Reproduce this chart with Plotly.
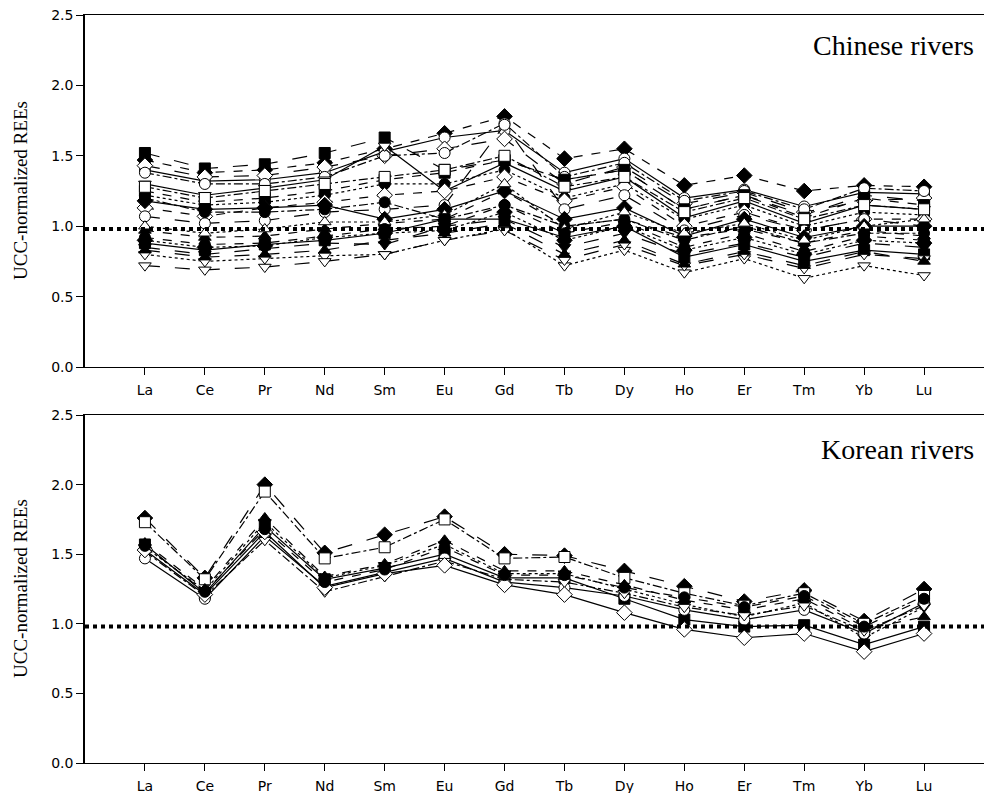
import plotly.graph_objects as go

elements = ["La", "Ce", "Pr", "Nd", "Sm", "Eu", "Gd", "Tb", "Dy", "Ho", "Er", "Tm", "Yb", "Lu"]
positions = list(range(1, 15))
ucc_ref = 0.98

# Chinese rivers (UCC-normalized REEs)
cn_01 = [1.52, 1.41, 1.44, 1.52, 1.63, 1.40, 1.47, 1.33, 1.40, 1.12, 1.22, 1.08, 1.22, 1.18]
cn_02 = [1.47, 1.38, 1.40, 1.45, 1.55, 1.66, 1.78, 1.48, 1.55, 1.29, 1.36, 1.25, 1.29, 1.28]
cn_03 = [1.40, 1.32, 1.33, 1.38, 1.53, 1.63, 1.68, 1.38, 1.48, 1.20, 1.26, 1.14, 1.24, 1.23]
cn_04 = [1.43, 1.35, 1.36, 1.42, 1.50, 1.55, 1.62, 1.30, 1.42, 1.16, 1.24, 1.10, 1.18, 1.20]
cn_05 = [1.38, 1.30, 1.30, 1.35, 1.50, 1.52, 1.73, 1.35, 1.45, 1.18, 1.25, 1.12, 1.27, 1.25]
cn_06 = [1.30, 1.22, 1.27, 1.33, 1.57, 1.25, 1.45, 1.25, 1.35, 1.06, 1.18, 1.02, 1.15, 1.12]
cn_07 = [1.25, 1.17, 1.20, 1.25, 1.33, 1.38, 1.47, 1.33, 1.40, 1.12, 1.22, 1.06, 1.20, 1.15]
cn_08 = [1.22, 1.15, 1.17, 1.22, 1.30, 1.30, 1.40, 1.20, 1.30, 1.05, 1.15, 1.00, 1.10, 1.08]
cn_09 = [1.13, 1.07, 1.13, 1.17, 1.22, 1.25, 1.35, 1.18, 1.28, 1.00, 1.10, 0.97, 1.05, 1.05]
cn_10 = [1.07, 1.02, 1.04, 1.10, 1.12, 1.15, 1.72, 1.12, 1.22, 0.97, 1.08, 0.97, 1.05, 1.00]
cn_11 = [1.18, 1.12, 1.13, 1.15, 1.05, 1.12, 1.25, 1.05, 1.13, 0.93, 1.05, 0.92, 1.00, 1.00]
cn_12 = [1.20, 1.10, 1.10, 1.12, 1.17, 1.05, 1.15, 1.00, 1.05, 0.90, 1.00, 0.88, 0.95, 0.95]
cn_13 = [0.97, 0.92, 0.93, 0.98, 1.02, 1.05, 1.25, 1.00, 1.05, 0.92, 0.98, 0.88, 0.97, 0.93]
cn_14 = [1.00, 0.95, 0.98, 1.03, 1.03, 1.08, 1.30, 0.98, 1.10, 0.95, 1.02, 0.90, 1.00, 1.05]
cn_15 = [0.88, 0.83, 0.87, 0.90, 0.95, 1.05, 1.05, 0.92, 1.00, 0.78, 0.87, 0.75, 0.83, 0.80]
cn_16 = [0.85, 0.80, 0.84, 0.88, 0.87, 1.00, 1.05, 0.85, 0.95, 0.80, 0.88, 0.78, 0.88, 0.85]
cn_17 = [0.92, 0.87, 0.88, 0.93, 0.98, 1.00, 1.15, 0.95, 1.03, 0.85, 0.95, 0.82, 0.93, 0.90]
cn_18 = [0.90, 0.85, 0.86, 0.92, 0.95, 0.97, 1.10, 0.90, 1.00, 0.83, 0.92, 0.80, 0.90, 0.88]
cn_19 = [0.80, 0.75, 0.77, 0.79, 0.80, 0.90, 0.98, 0.72, 0.83, 0.67, 0.77, 0.63, 0.72, 0.65]
cn_20 = [0.72, 0.69, 0.71, 0.75, 0.80, 0.90, 0.97, 0.76, 0.87, 0.72, 0.80, 0.70, 0.80, 0.77]
cn_21 = [0.83, 0.78, 0.80, 0.83, 0.90, 0.95, 1.02, 0.80, 0.90, 0.73, 0.82, 0.72, 0.82, 0.75]
cn_22 = [1.28, 1.20, 1.25, 1.30, 1.35, 1.40, 1.50, 1.28, 1.35, 1.10, 1.20, 1.05, 1.15, 1.12]

# Korean rivers
kr_01 = [1.76, 1.33, 2.00, 1.51, 1.64, 1.77, 1.50, 1.49, 1.38, 1.27, 1.16, 1.24, 1.02, 1.25]
kr_02 = [1.73, 1.32, 1.95, 1.47, 1.55, 1.75, 1.47, 1.48, 1.33, 1.22, 1.13, 1.22, 1.00, 1.20]
kr_03 = [1.58, 1.25, 1.76, 1.34, 1.43, 1.60, 1.38, 1.38, 1.28, 1.17, 1.10, 1.18, 0.96, 1.05]
kr_04 = [1.57, 1.22, 1.70, 1.32, 1.40, 1.50, 1.33, 1.33, 1.18, 1.03, 0.98, 0.99, 0.85, 0.98]
kr_05 = [1.55, 1.24, 1.73, 1.33, 1.42, 1.57, 1.36, 1.36, 1.25, 1.14, 1.05, 1.15, 0.90, 1.12]
kr_06 = [1.47, 1.18, 1.63, 1.27, 1.37, 1.47, 1.30, 1.26, 1.20, 1.10, 1.03, 1.10, 0.93, 1.15]
kr_07 = [1.52, 1.20, 1.60, 1.23, 1.34, 1.45, 1.32, 1.30, 1.22, 1.12, 1.06, 1.13, 0.95, 1.13]
kr_08 = [1.53, 1.21, 1.66, 1.26, 1.36, 1.42, 1.28, 1.21, 1.08, 0.96, 0.90, 0.93, 0.80, 0.93]
kr_09 = [1.56, 1.23, 1.68, 1.30, 1.39, 1.55, 1.35, 1.35, 1.26, 1.19, 1.12, 1.20, 0.98, 1.18]

chinese = [
    (cn_01, "square", True, "longdash"),
    (cn_02, "diamond", True, "dash"),
    (cn_03, "circle", False, "solid"),
    (cn_04, "diamond", False, "longdash"),
    (cn_05, "circle", False, "dashdot"),
    (cn_06, "triangle-down", False, "solid"),
    (cn_07, "square", True, "dash"),
    (cn_08, "circle", True, "dot"),
    (cn_09, "diamond", False, "dash"),
    (cn_10, "circle", False, "longdash"),
    (cn_11, "diamond", True, "solid"),
    (cn_12, "circle", True, "dashdot"),
    (cn_13, "triangle-up", True, "dash"),
    (cn_14, "triangle-up", False, "dot"),
    (cn_15, "square", True, "solid"),
    (cn_16, "triangle-down", True, "longdash"),
    (cn_17, "circle", True, "dash"),
    (cn_18, "diamond", True, "dot"),
    (cn_19, "triangle-down", False, "dot"),
    (cn_20, "triangle-down", False, "longdash"),
    (cn_21, "triangle-up", True, "longdash"),
    (cn_22, "square", False, "dashdot"),
]

korean = [
    (kr_01, "diamond", True, "longdash"),
    (kr_02, "square", False, "dashdot"),
    (kr_03, "triangle-up", True, "dash"),
    (kr_04, "square", True, "solid"),
    (kr_05, "triangle-down", True, "dot"),
    (kr_06, "circle", False, "solid"),
    (kr_07, "triangle-down", False, "dashdot"),
    (kr_08, "diamond", False, "solid"),
    (kr_09, "circle", True, "dash"),
]

fig = go.Figure()

def add_series(vals, sym, filled, dash, yaxis):
    fig.add_trace(go.Scatter(
        x=positions, y=vals, mode="lines+markers", yaxis=yaxis, xaxis="x" if yaxis == "y" else "x2",
        line=dict(color="black", width=1.2, dash=dash),
        marker=dict(symbol=sym, size=11 if sym != "diamond" else 12,
                    color="black" if filled else "white",
                    line=dict(color="black", width=1)),
        showlegend=False, hoverinfo="skip"))

for vals, sym, filled, dash in chinese:
    add_series(vals, sym, filled, dash, "y")
for vals, sym, filled, dash in korean:
    add_series(vals, sym, filled, dash, "y2")

# UCC reference line
for xa, ya in (("x", "y"), ("x2", "y2")):
    fig.add_trace(go.Scatter(
        x=[0, 15], y=[ucc_ref, ucc_ref], mode="lines", xaxis=xa, yaxis=ya,
        line=dict(color="black", width=4, dash="4px,4px"),
        showlegend=False, hoverinfo="skip"))

tickfont = dict(family="DejaVu Sans, Arial, sans-serif", size=14, color="black")
xcommon = dict(range=[0, 15], tickvals=positions, ticktext=elements, ticks="outside",
               ticklen=7, tickwidth=1, tickcolor="black", showline=True, linecolor="black",
               linewidth=1.3, mirror=True, showgrid=False, zeroline=False, tickfont=tickfont,
               ticklabelstandoff=3)
ycommon = dict(range=[0, 2.5], tickvals=[0, 0.5, 1.0, 1.5, 2.0, 2.5],
               ticktext=["0.0", "0.5", "1.0", "1.5", "2.0", "2.5"], ticks="outside",
               ticklen=7, tickwidth=1, tickcolor="black", showline=True, linecolor="black",
               linewidth=1.5, mirror=False, showgrid=False, zeroline=False, tickfont=tickfont)

serif = "Liberation Serif, Times New Roman, serif"
fig.update_layout(
    width=984, height=793,
    margin=dict(l=85, r=0, t=15, b=30),
    plot_bgcolor="white", paper_bgcolor="white",
    xaxis=dict(**xcommon, anchor="y"),
    yaxis=dict(**ycommon, domain=[0.5294, 1.0], anchor="x"),
    xaxis2=dict(**xcommon, anchor="y2"),
    yaxis2=dict(**ycommon, domain=[0.0, 0.4652], anchor="x2"),
    annotations=[
        dict(text="Chinese rivers", xref="paper", yref="y", x=0.991, y=2.28, xanchor="right",
             yanchor="middle", showarrow=False, font=dict(family=serif, size=28, color="black")),
        dict(text="Korean rivers", xref="paper", yref="y2", x=0.991, y=2.25, xanchor="right",
             yanchor="middle", showarrow=False, font=dict(family=serif, size=28, color="black")),
        dict(text="UCC-normalized REEs", xref="paper", yref="y domain", x=-0.0723, y=0.5,
             xanchor="center", yanchor="middle", textangle=-90, showarrow=False,
             font=dict(family=serif, size=19, color="black")),
        dict(text="UCC-normalized REEs", xref="paper", yref="y2 domain", x=-0.0723, y=0.5,
             xanchor="center", yanchor="middle", textangle=-90, showarrow=False,
             font=dict(family=serif, size=19, color="black")),
    ],
)

fig.write_html("out.html", config={"displayModeBar": False},
               post_script="document.body.style.margin='0px';document.body.style.overflow='hidden';")
